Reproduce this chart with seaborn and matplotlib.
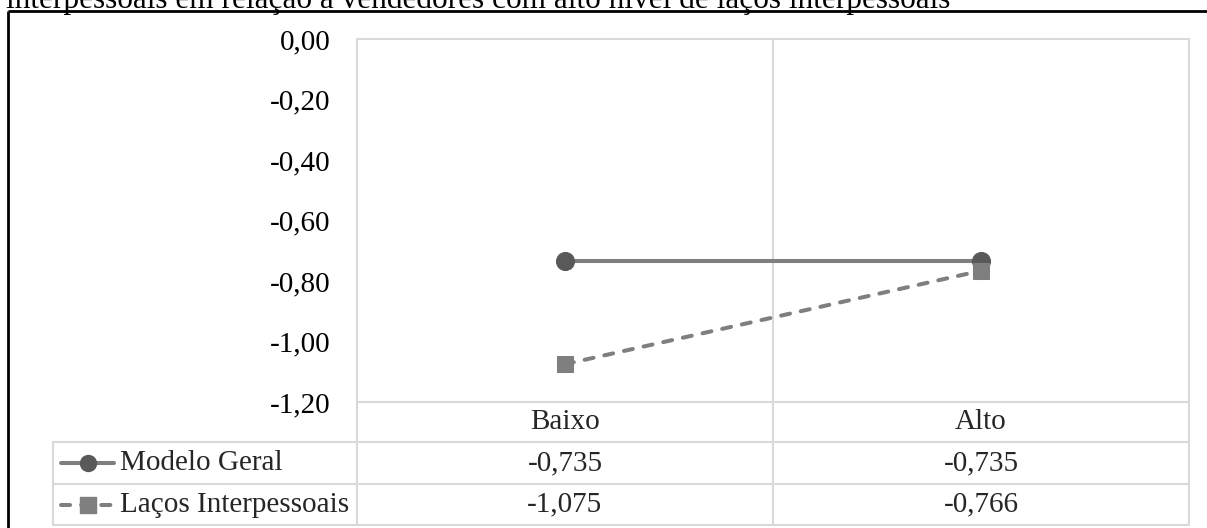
import numpy as np
import pandas as pd
import matplotlib
matplotlib.use("Agg")
import matplotlib.pyplot as plt
from matplotlib.lines import Line2D
import seaborn as sns

# Data
categories = ["Baixo", "Alto"]
series_names = ["Modelo Geral", "Laços Interpessoais"]
modelo_geral = [-0.735, -0.735]
lacos_interpessoais = [-1.075, -0.766]
y_ticks = [0.0, -0.2, -0.4, -0.6, -0.8, -1.0, -1.2]
caption = "interpessoais em relação a vendedores com alto nível de laços interpessoais"

sns.set_theme(style="white")
plt.rcParams["font.family"] = ["Liberation Serif", "DejaVu Serif"]

W, H = 1207, 528
fig = plt.figure(figsize=(W / 100, H / 100), dpi=100)

def fx(px):
    return px / W

def fy(py):
    return 1 - py / H

FS = 21
GRID = "#d9d9d9"

# Overlay in pixel coordinates for frame, caption and data table
ov = fig.add_axes([0, 0, 1, 1], zorder=0)
ov.set_xlim(0, W)
ov.set_ylim(H, 0)
ov.axis("off")

ov.text(6, 8, caption, fontsize=22.5, ha="left", va="baseline", color="black")
ov.plot([8, W], [11, 11], color="black", lw=2, solid_capstyle="butt")
ov.plot([8, 8], [11, H], color="black", lw=2, solid_capstyle="butt")

# Plot area bounds (pixels)
L, R, T, B = 357, 1189, 39, 402
MID = (L + R) / 2
row_lines = [442, 484, 525]

# Grid / table lines
ov.plot([L, R], [T, T], color=GRID, lw=1.5)
ov.plot([L, R], [B, B], color=GRID, lw=1.5)
for y in row_lines:
    ov.plot([53, R], [y, y], color=GRID, lw=1.5)
for x in [L, MID, R]:
    ov.plot([x, x], [T, row_lines[-1]], color=GRID, lw=1.5)
ov.plot([53, 53], [row_lines[0], row_lines[-1]], color=GRID, lw=1.5)

# Header row and values
col_centers = [(L + MID) / 2, (MID + R) / 2]
for cx, cat in zip(col_centers, categories):
    ov.text(cx, (B + row_lines[0]) / 2, cat, fontsize=FS, ha="center", va="center")

def fmt(v, nd):
    return f"{v:.{nd}f}".replace(".", ",")

rows = [modelo_geral, lacos_interpessoais]
for i, vals in enumerate(rows):
    yc = (row_lines[i] + row_lines[i + 1]) / 2
    for cx, v in zip(col_centers, vals):
        ov.text(cx, yc, fmt(v, 3), fontsize=FS, ha="center", va="center")
    ov.text(120, yc, series_names[i], fontsize=FS, ha="left", va="center")

# Legend keys inside the table
yc0 = (row_lines[0] + row_lines[1]) / 2
yc1 = (row_lines[1] + row_lines[2]) / 2
ov.add_line(Line2D([61, 114], [yc0, yc0], color="#7f7f7f", lw=2.9, solid_capstyle="round"))
ov.add_line(Line2D([88], [yc0], marker="o", markersize=11.5, mfc="#595959", mec="#595959", lw=0))
ov.add_line(Line2D([61, 114], [yc1, yc1], color="#7f7f7f", lw=2.9, linestyle=(0, (2.25, 2.75)),
                   dash_capstyle="round"))
ov.add_line(Line2D([88], [yc1], marker="s", markersize=12, mfc="#7f7f7f", mec="#7f7f7f", lw=0))

# Main chart axes
ax = fig.add_axes([fx(L), fy(B), fx(R - L), (B - T) / H], zorder=1)
ax.patch.set_visible(False)

df = pd.DataFrame({
    "categoria": categories * 2,
    "valor": modelo_geral + lacos_interpessoais,
    "serie": [series_names[0]] * 2 + [series_names[1]] * 2,
})

d0 = df[df["serie"] == series_names[0]]
d1 = df[df["serie"] == series_names[1]]
sns.lineplot(data=d0, x="categoria", y="valor", ax=ax, color="#7f7f7f", lw=2.9,
             marker="o", markersize=13, mfc="#595959", mec="#595959", legend=False,
             sort=False)
sns.lineplot(data=d1, x="categoria", y="valor", ax=ax, color="#7f7f7f", lw=2.9,
             marker="s", markersize=12, mfc="#7f7f7f", mec="#7f7f7f", legend=False,
             sort=False, linestyle=(0, (2.25, 2.75)), dash_capstyle="round")

ax.set_xlim(-0.5, 1.5)
ax.set_ylim(-1.2, 0.0)
ax.set_yticks(y_ticks)
ax.set_yticklabels([fmt(v, 2) for v in y_ticks], fontsize=FS, color="black")
ax.set_xticks([])
ax.set_xlabel("")
ax.set_ylabel("")
ax.tick_params(axis="y", length=0, pad=19)
for s in ax.spines.values():
    s.set_visible(False)
ax.grid(False)

fig.savefig("out.png", dpi=100, facecolor="white")
